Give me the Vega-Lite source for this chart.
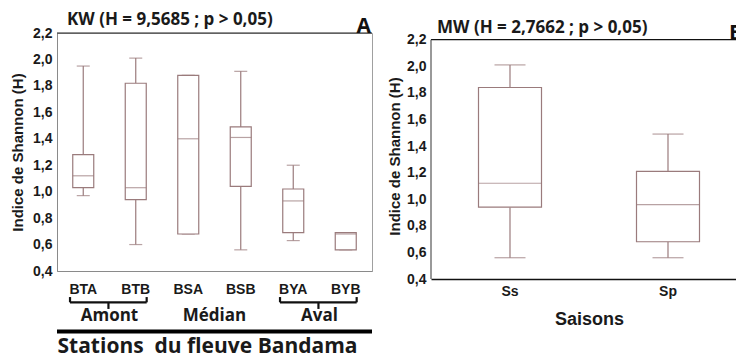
{
  "$schema": "https://vega.github.io/schema/vega-lite/v6.json",
  "background": "white",
  "padding": {"left": 10, "top": 10, "right": -8, "bottom": 0},
  "datasets": {
    "stations": [
      {"station": "BTA", "min": 0.97, "q1": 1.03, "median": 1.12, "q3": 1.28, "max": 1.95},
      {"station": "BTB", "min": 0.60, "q1": 0.94, "median": 1.03, "q3": 1.82, "max": 2.01},
      {"station": "BSA", "min": 0.68, "q1": 0.68, "median": 1.40, "q3": 1.88, "max": 1.88},
      {"station": "BSB", "min": 0.56, "q1": 1.04, "median": 1.41, "q3": 1.49, "max": 1.91},
      {"station": "BYA", "min": 0.63, "q1": 0.69, "median": 0.93, "q3": 1.02, "max": 1.20},
      {"station": "BYB", "min": 0.56, "q1": 0.56, "median": 0.68, "q3": 0.69, "max": 0.69}
    ],
    "groups": [
      {"group": "Amont", "brace": 1},
      {"group": "Médian", "brace": 0},
      {"group": "Aval", "brace": 1}
    ],
    "seasons": [
      {"season": "Ss", "min": 0.56, "q1": 0.94, "median": 1.12, "q3": 1.84, "max": 2.01},
      {"season": "Sp", "min": 0.56, "q1": 0.68, "median": 0.96, "q3": 1.21, "max": 1.49}
    ]
  },
  "config": {
    "view": {"stroke": null},
    "axis": {
      "grid": false,
      "labelFont": "Liberation Sans",
      "labelFontWeight": "bold",
      "labelFontSize": 14,
      "labelColor": "#1a1a1a",
      "labelFlush": false,
      "labelOverlap": false,
      "titleFont": "Liberation Sans",
      "titleFontWeight": "bold",
      "titleColor": "#1a1a1a"
    },
    "axisY": {"labelOverlap": false, "titleFontSize": 15, "ticks": false, "labelPadding": 5, "tickCount": 10},
    "title": {"font": "Open Sans", "fontWeight": "bold", "fontSize": 17, "color": "#1a1a1a", "anchor": "start", "frame": "group"}
  },
  "spacing": 12,
  "hconcat": [
    {
      "width": 315,
      "height": 238,
      "view": {"stroke": "#a0a0a0"},
      "title": {"text": "KW (H = 9,5685 ; p > 0,05)", "dx": 10, "offset": -26, "baseline": "alphabetic"},
      "layer": [
        {
          "data": {"name": "stations"},
          "encoding": {
            "x": {
              "field": "station", "type": "nominal", "sort": null, "title": null,
              "scale": {"paddingInner": 0, "paddingOuter": 0},
              "axis": {"orient": "bottom", "labelAngle": 0, "ticks": false, "labelPadding": 11, "domainColor": "#8a8a8a"}
            }
          },
          "layer": [
            {
              "mark": {"type": "rule", "color": "#9a7b7c", "strokeWidth": 1.2},
              "encoding": {
                "y": {"field": "min", "type": "quantitative", "title": "Indice de Shannon (H)", "scale": {"domain": [0.4, 2.2], "nice": false, "zero": false},
                  "axis": {"values": [0.4, 0.6, 0.8, 1.0, 1.2, 1.4, 1.6, 1.8, 2.0, 2.2], "labelExpr": "replace(format(datum.value, '.1f'), '.', ',')", "labelOverlap": false, "tickCount": 10, "ticks": false, "labelPadding": 5, "titlePadding": 7, "titleFontSize": 15, "domainColor": "#8a8a8a"}},
                "y2": {"field": "q1"}
              }
            },
            {
              "mark": {"type": "rule", "color": "#9a7b7c", "strokeWidth": 1.2},
              "encoding": {
                "y": {"field": "q3", "type": "quantitative", "title": "Indice de Shannon (H)",
                  "axis": {"values": [0.4, 0.6, 0.8, 1.0, 1.2, 1.4, 1.6, 1.8, 2.0, 2.2], "labelExpr": "replace(format(datum.value, '.1f'), '.', ',')", "labelOverlap": false, "tickCount": 10, "ticks": false, "labelPadding": 5, "titlePadding": 7, "titleFontSize": 15, "domainColor": "#8a8a8a"}},
                "y2": {"field": "max"}
              }
            },
            {
              "mark": {"type": "tick", "orient": "horizontal", "color": "#9a7b7c", "size": 13, "thickness": 1.2},
              "encoding": {
                "y": {"field": "min", "type": "quantitative", "title": "Indice de Shannon (H)",
                  "axis": {"values": [0.4, 0.6, 0.8, 1.0, 1.2, 1.4, 1.6, 1.8, 2.0, 2.2], "labelExpr": "replace(format(datum.value, '.1f'), '.', ',')", "labelOverlap": false, "tickCount": 10, "ticks": false, "labelPadding": 5, "titlePadding": 7, "titleFontSize": 15, "domainColor": "#8a8a8a"}}
              }
            },
            {
              "mark": {"type": "tick", "orient": "horizontal", "color": "#9a7b7c", "size": 13, "thickness": 1.2},
              "encoding": {
                "y": {"field": "max", "type": "quantitative", "title": "Indice de Shannon (H)",
                  "axis": {"values": [0.4, 0.6, 0.8, 1.0, 1.2, 1.4, 1.6, 1.8, 2.0, 2.2], "labelExpr": "replace(format(datum.value, '.1f'), '.', ',')", "labelOverlap": false, "tickCount": 10, "ticks": false, "labelPadding": 5, "titlePadding": 7, "titleFontSize": 15, "domainColor": "#8a8a8a"}}
              }
            },
            {
              "mark": {"type": "bar", "width": 21, "fill": "white", "stroke": "#9a7b7c", "strokeWidth": 1.2},
              "encoding": {
                "y": {"field": "q1", "type": "quantitative", "title": "Indice de Shannon (H)",
                  "axis": {"values": [0.4, 0.6, 0.8, 1.0, 1.2, 1.4, 1.6, 1.8, 2.0, 2.2], "labelExpr": "replace(format(datum.value, '.1f'), '.', ',')", "labelOverlap": false, "tickCount": 10, "ticks": false, "labelPadding": 5, "titlePadding": 7, "titleFontSize": 15, "domainColor": "#8a8a8a"}},
                "y2": {"field": "q3"}
              }
            },
            {
              "mark": {"type": "tick", "orient": "horizontal", "color": "#9a7b7c", "size": 21, "thickness": 1.2},
              "encoding": {
                "y": {"field": "median", "type": "quantitative", "title": "Indice de Shannon (H)",
                  "axis": {"values": [0.4, 0.6, 0.8, 1.0, 1.2, 1.4, 1.6, 1.8, 2.0, 2.2], "labelExpr": "replace(format(datum.value, '.1f'), '.', ',')", "labelOverlap": false, "tickCount": 10, "ticks": false, "labelPadding": 5, "titlePadding": 7, "titleFontSize": 15, "domainColor": "#8a8a8a"}}
              }
            }
          ]
        },
        {
          "data": {"name": "groups"},
          "encoding": {
            "x": {
              "field": "group", "type": "nominal", "sort": null,
              "scale": {"domain": ["Amont", "Médian", "Aval"], "paddingInner": 0, "paddingOuter": 0},
              "axis": {
                "orient": "bottom",
                "labelAngle": 0, "domain": false, "ticks": false, "labelPadding": 36,
                "labelFont": "Open Sans", "labelFontSize": 17,
                "title": "Stations\u00a0 du fleuve Bandama", "titleFont": "Open Sans", "titleFontSize": 21, "titlePadding": 12, "titleX": 150
              }
            }
          },
          "transform": [{"filter": "datum.brace == 1"}],
          "layer": [
            {
              "mark": {"type": "rule", "color": "#111", "strokeWidth": 2.2},
              "encoding": {
                "x": {"field": "group", "type": "nominal", "bandPosition": 0.124},
                "x2": {"field": "group", "bandPosition": 0.854},
                "y": {"datum": 0.163, "title": "Indice de Shannon (H)",
                  "axis": {"values": [0.4, 0.6, 0.8, 1.0, 1.2, 1.4, 1.6, 1.8, 2.0, 2.2], "labelExpr": "replace(format(datum.value, '.1f'), '.', ',')", "labelOverlap": false, "tickCount": 10, "ticks": false, "labelPadding": 5, "titlePadding": 7, "titleFontSize": 15, "domainColor": "#8a8a8a"}}
              }
            },
            {
              "mark": {"type": "rule", "color": "#111", "strokeWidth": 2.2},
              "encoding": {
                "x": {"field": "group", "type": "nominal", "bandPosition": 0.124},
                "y": {"datum": 0.163, "title": "Indice de Shannon (H)",
                  "axis": {"values": [0.4, 0.6, 0.8, 1.0, 1.2, 1.4, 1.6, 1.8, 2.0, 2.2], "labelExpr": "replace(format(datum.value, '.1f'), '.', ',')", "labelOverlap": false, "tickCount": 10, "ticks": false, "labelPadding": 5, "titlePadding": 7, "titleFontSize": 15, "domainColor": "#8a8a8a"}},
                "y2": {"datum": 0.203}
              }
            },
            {
              "mark": {"type": "rule", "color": "#111", "strokeWidth": 2.2},
              "encoding": {
                "x": {"field": "group", "type": "nominal", "bandPosition": 0.854},
                "y": {"datum": 0.163, "title": "Indice de Shannon (H)",
                  "axis": {"values": [0.4, 0.6, 0.8, 1.0, 1.2, 1.4, 1.6, 1.8, 2.0, 2.2], "labelExpr": "replace(format(datum.value, '.1f'), '.', ',')", "labelOverlap": false, "tickCount": 10, "ticks": false, "labelPadding": 5, "titlePadding": 7, "titleFontSize": 15, "domainColor": "#8a8a8a"}},
                "y2": {"datum": 0.203}
              }
            },
            {
              "mark": {"type": "rule", "color": "#111", "strokeWidth": 2.2},
              "encoding": {
                "x": {"field": "group", "type": "nominal", "bandPosition": 0.49},
                "y": {"datum": 0.163, "title": "Indice de Shannon (H)",
                  "axis": {"values": [0.4, 0.6, 0.8, 1.0, 1.2, 1.4, 1.6, 1.8, 2.0, 2.2], "labelExpr": "replace(format(datum.value, '.1f'), '.', ',')", "labelOverlap": false, "tickCount": 10, "ticks": false, "labelPadding": 5, "titlePadding": 7, "titleFontSize": 15, "domainColor": "#8a8a8a"}},
                "y2": {"datum": 0.113}
              }
            }
          ]
        },
        {
          "data": {"values": [{}]},
          "layer": [
            {
              "mark": {"type": "rule", "color": "#222", "strokeWidth": 1.2},
              "encoding": {"y": {"datum": 2.2, "title": "Indice de Shannon (H)",
                "axis": {"values": [0.4, 0.6, 0.8, 1.0, 1.2, 1.4, 1.6, 1.8, 2.0, 2.2], "labelExpr": "replace(format(datum.value, '.1f'), '.', ',')", "labelOverlap": false, "tickCount": 10, "ticks": false, "labelPadding": 5, "titlePadding": 7, "titleFontSize": 15, "domainColor": "#8a8a8a"}}}
            },
            {
              "mark": {"type": "rule", "color": "#000", "strokeWidth": 4},
              "encoding": {"y": {"datum": -0.058, "title": "Indice de Shannon (H)",
                "axis": {"values": [0.4, 0.6, 0.8, 1.0, 1.2, 1.4, 1.6, 1.8, 2.0, 2.2], "labelExpr": "replace(format(datum.value, '.1f'), '.', ',')", "labelOverlap": false, "tickCount": 10, "ticks": false, "labelPadding": 5, "titlePadding": 7, "titleFontSize": 15, "domainColor": "#8a8a8a"}}}
            },
            {
              "mark": {"type": "text", "text": "A", "font": "Open Sans", "fontWeight": "bold", "fontSize": 21, "align": "right", "baseline": "alphabetic", "dx": -1, "color": "#111"},
              "encoding": {"x": {"value": "width"}, "y": {"datum": 2.2, "title": "Indice de Shannon (H)",
                "axis": {"values": [0.4, 0.6, 0.8, 1.0, 1.2, 1.4, 1.6, 1.8, 2.0, 2.2], "labelExpr": "replace(format(datum.value, '.1f'), '.', ',')", "labelOverlap": false, "tickCount": 10, "ticks": false, "labelPadding": 5, "titlePadding": 7, "titleFontSize": 15, "domainColor": "#8a8a8a"}}}
            }
          ]
        }
      ],
      "resolve": {"scale": {"x": "independent"}, "axis": {"x": "independent"}}
    },
    {
      "width": 316,
      "height": 246,
      "title": {"text": "MW (H = 2,7662 ; p > 0,05)", "dx": 6, "offset": -27, "baseline": "alphabetic"},
      "layer": [
        {
          "data": {"name": "seasons"},
          "encoding": {
            "x": {
              "field": "season", "type": "nominal", "sort": null, "title": "Saisons",
              "scale": {"paddingInner": 0, "paddingOuter": 0},
              "axis": {"labelAngle": 0, "ticks": false, "labelPadding": 5, "domainColor": "#111", "domainWidth": 1.3, "titleFontSize": 18, "titlePadding": 12}
            }
          },
          "layer": [
            {
              "mark": {"type": "rule", "color": "#9a7b7c", "strokeWidth": 1.2},
              "encoding": {
                "y": {"field": "min", "type": "quantitative", "title": "Indice de Shannon (H)", "scale": {"domain": [0.4, 2.25], "nice": false, "zero": false},
                  "axis": {"values": [0.4, 0.6, 0.8, 1.0, 1.2, 1.4, 1.6, 1.8, 2.0, 2.2], "labelExpr": "replace(format(datum.value, '.1f'), '.', ',')", "labelOverlap": false, "tickCount": 10, "ticks": false, "domain": false, "labelPadding": 5, "titlePadding": 4, "titleFontSize": 15}},
                "y2": {"field": "q1"}
              }
            },
            {
              "mark": {"type": "rule", "color": "#9a7b7c", "strokeWidth": 1.2},
              "encoding": {
                "y": {"field": "q3", "type": "quantitative", "title": "Indice de Shannon (H)",
                  "axis": {"values": [0.4, 0.6, 0.8, 1.0, 1.2, 1.4, 1.6, 1.8, 2.0, 2.2], "labelExpr": "replace(format(datum.value, '.1f'), '.', ',')", "labelOverlap": false, "tickCount": 10, "ticks": false, "domain": false, "labelPadding": 5, "titlePadding": 4, "titleFontSize": 15}},
                "y2": {"field": "max"}
              }
            },
            {
              "mark": {"type": "tick", "orient": "horizontal", "color": "#9a7b7c", "size": 31, "thickness": 1.2},
              "encoding": {
                "y": {"field": "min", "type": "quantitative", "title": "Indice de Shannon (H)",
                  "axis": {"values": [0.4, 0.6, 0.8, 1.0, 1.2, 1.4, 1.6, 1.8, 2.0, 2.2], "labelExpr": "replace(format(datum.value, '.1f'), '.', ',')", "labelOverlap": false, "tickCount": 10, "ticks": false, "domain": false, "labelPadding": 5, "titlePadding": 4, "titleFontSize": 15}}
              }
            },
            {
              "mark": {"type": "tick", "orient": "horizontal", "color": "#9a7b7c", "size": 31, "thickness": 1.2},
              "encoding": {
                "y": {"field": "max", "type": "quantitative", "title": "Indice de Shannon (H)",
                  "axis": {"values": [0.4, 0.6, 0.8, 1.0, 1.2, 1.4, 1.6, 1.8, 2.0, 2.2], "labelExpr": "replace(format(datum.value, '.1f'), '.', ',')", "labelOverlap": false, "tickCount": 10, "ticks": false, "domain": false, "labelPadding": 5, "titlePadding": 4, "titleFontSize": 15}}
              }
            },
            {
              "mark": {"type": "bar", "width": 63, "fill": "white", "stroke": "#9a7b7c", "strokeWidth": 1.2},
              "encoding": {
                "y": {"field": "q1", "type": "quantitative", "title": "Indice de Shannon (H)",
                  "axis": {"values": [0.4, 0.6, 0.8, 1.0, 1.2, 1.4, 1.6, 1.8, 2.0, 2.2], "labelExpr": "replace(format(datum.value, '.1f'), '.', ',')", "labelOverlap": false, "tickCount": 10, "ticks": false, "domain": false, "labelPadding": 5, "titlePadding": 4, "titleFontSize": 15}},
                "y2": {"field": "q3"}
              }
            },
            {
              "mark": {"type": "tick", "orient": "horizontal", "color": "#9a7b7c", "size": 63, "thickness": 1.2},
              "encoding": {
                "y": {"field": "median", "type": "quantitative", "title": "Indice de Shannon (H)",
                  "axis": {"values": [0.4, 0.6, 0.8, 1.0, 1.2, 1.4, 1.6, 1.8, 2.0, 2.2], "labelExpr": "replace(format(datum.value, '.1f'), '.', ',')", "labelOverlap": false, "tickCount": 10, "ticks": false, "domain": false, "labelPadding": 5, "titlePadding": 4, "titleFontSize": 15}}
              }
            }
          ]
        },
        {
          "data": {"values": [{}]},
          "layer": [
            {
              "mark": {"type": "rule", "color": "#111", "strokeWidth": 1.3},
              "encoding": {"y": {"datum": 2.2, "title": "Indice de Shannon (H)",
                "axis": {"values": [0.4, 0.6, 0.8, 1.0, 1.2, 1.4, 1.6, 1.8, 2.0, 2.2], "labelExpr": "replace(format(datum.value, '.1f'), '.', ',')", "labelOverlap": false, "tickCount": 10, "ticks": false, "domain": false, "labelPadding": 5, "titlePadding": 4, "titleFontSize": 15}}}
            },
            {
              "mark": {"type": "rule", "color": "#555", "strokeWidth": 1.2},
              "encoding": {"x": {"value": 0}, "y": {"datum": 0.4, "title": "Indice de Shannon (H)",
                "axis": {"values": [0.4, 0.6, 0.8, 1.0, 1.2, 1.4, 1.6, 1.8, 2.0, 2.2], "labelExpr": "replace(format(datum.value, '.1f'), '.', ',')", "labelOverlap": false, "tickCount": 10, "ticks": false, "domain": false, "labelPadding": 5, "titlePadding": 4, "titleFontSize": 15}}, "y2": {"datum": 2.2}}
            },
            {
              "mark": {"type": "text", "text": "B", "font": "Open Sans", "fontWeight": "bold", "fontSize": 21, "align": "right", "baseline": "alphabetic", "dx": -4, "color": "#111"},
              "encoding": {"x": {"value": "width"}, "y": {"datum": 2.2, "title": "Indice de Shannon (H)",
                "axis": {"values": [0.4, 0.6, 0.8, 1.0, 1.2, 1.4, 1.6, 1.8, 2.0, 2.2], "labelExpr": "replace(format(datum.value, '.1f'), '.', ',')", "labelOverlap": false, "tickCount": 10, "ticks": false, "domain": false, "labelPadding": 5, "titlePadding": 4, "titleFontSize": 15}}}
            }
          ]
        }
      ]
    }
  ]
}
